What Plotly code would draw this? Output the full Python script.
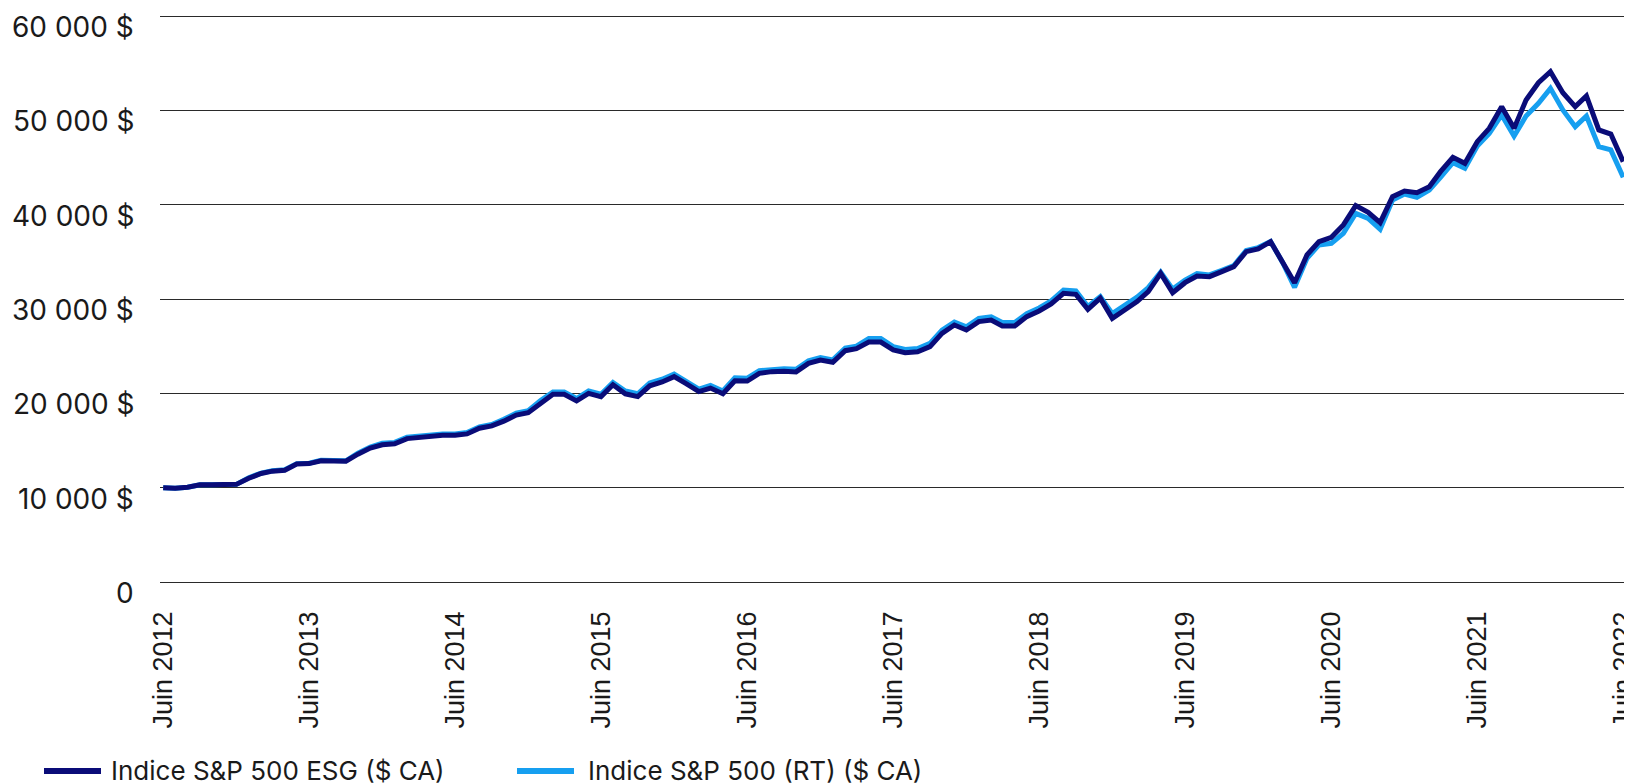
import pandas as pd
import plotly.graph_objects as go

# Monthly observations, June 2012 -> June 2022
months = pd.date_range("2012-06-01", "2022-06-01", freq="MS").strftime("%Y-%m-%d").tolist()

esg_values = [
    10000, 9950, 10050, 10300, 10300, 10300, 10350, 11000, 11500, 11750, 11850, 12500,
    12550, 12850, 12800, 12800, 13550, 14200, 14550, 14650, 15200, 15350, 15400, 15550,
    15550, 15700, 16300, 16550, 17050, 17700, 17950, 19000, 19900, 19900, 19200, 20000,
    19650, 20900, 19950, 19650, 20800, 21200, 21770, 21000, 20180, 20560, 19950, 21340,
    21300, 22120, 22300, 22330, 22270, 23180, 23530, 23290, 24520, 24730, 25440, 25440,
    24600, 24310, 24400, 24950, 26360, 27240, 26710, 27600, 27770, 27140, 27140, 28130,
    28730, 29470, 30600, 30490, 28900, 30080, 27950, 28830, 29720, 30780, 32720, 30670,
    31730, 32440, 32370, 32900, 33430, 35020, 35300, 36080, 33960, 31730, 34670, 36080,
    36540, 37850, 39900, 39190, 38090, 40850, 41450, 41270, 41910, 43500, 45020, 44380,
    46680, 48090, 50390, 48090, 51100, 52930, 54100, 51870, 50390, 51520, 47920, 47490,
    44560,
]

sp500_values = [
    10000, 9950, 10050, 10300, 10300, 10300, 10350, 11050, 11550, 11800, 11900, 12550,
    12600, 12900, 12850, 12850, 13650, 14300, 14700, 14800, 15350, 15500, 15550, 15700,
    15700, 15850, 16450, 16700, 17250, 17900, 18150, 19250, 20150, 20150, 19450, 20250,
    19900, 21150, 20250, 19950, 21100, 21500, 22050, 21300, 20450, 20850, 20250, 21650,
    21600, 22400, 22550, 22600, 22550, 23450, 23800, 23550, 24800, 25000, 25800, 25800,
    24950, 24650, 24750, 25300, 26700, 27550, 27050, 27950, 28100, 27500, 27500, 28450,
    29050, 29800, 30950, 30850, 29200, 30250, 28450, 29300, 30200, 31200, 32850, 31050,
    32000, 32700, 32550, 33050, 33550, 35150, 35450, 36100, 33800, 31240, 34310, 35730,
    35900, 36960, 39080, 38550, 37390, 40500, 41130, 40780, 41560, 42900, 44450, 43850,
    46220, 47560, 49510, 47280, 49400, 50740, 52330, 50040, 48270, 49400, 46150, 45800,
    42900,
]

series_names = ["Indice S&P 500 ESG ($ CA)", "Indice S&P 500 (RT) ($ CA)"]

x_tick_dates = [f"{y}-06-01" for y in range(2012, 2023)]
x_tick_labels = [f"Juin {y}" for y in range(2012, 2023)]
y_tick_values = [0, 10000, 20000, 30000, 40000, 50000, 60000]
y_tick_labels = ["0", "10 000 $", "20 000 $", "30 000 $", "40 000 $", "50 000 $", "60 000 $"]

DARK = "#0a0c78"
LIGHT = "#169ff0"
TEXT = "#1a1a1a"

W, H = 1632, 783
OFF = 8  # page body margin offset of the figure inside the browser window
ML, MR, MT, MB = 160 - OFF, OFF, 14 - OFF, 199 + OFF
PW, PH = W - ML - MR, H - MT - MB
Y_RANGE = [-212, 60212]


def px_x(page_px):
    return (page_px - OFF - ML) / PW


def px_y(page_py):
    return (H - MB - (page_py - OFF)) / PH


fig = go.Figure()
fig.add_trace(go.Scatter(
    x=months, y=sp500_values, name=series_names[1], mode="lines",
    line=dict(color=LIGHT, width=5),
))
fig.add_trace(go.Scatter(
    x=months, y=esg_values, name=series_names[0], mode="lines",
    line=dict(color=DARK, width=5),
))

shapes = []
annotations = []

# Y-axis labels: placed on the y scale, just below their gridline (as in the original)
for val, lab in zip(y_tick_values, y_tick_labels):
    annotations.append(dict(
        text=lab, xref="paper", yref="y", x=px_x(136), y=val,
        xanchor="right", yanchor="middle", yshift=-11, showarrow=False,
        font=dict(size=28, family="Inter, Arial", color=TEXT),
    ))

# Legend drawn manually (long swatches like the original)
legend_items = [
    (series_names[0], DARK, 44, 101, 109),
    (series_names[1], LIGHT, 517, 574, 586),
]
for name, color, x0, x1, xt in legend_items:
    shapes.append(dict(
        type="line", xref="paper", yref="paper",
        x0=px_x(x0), x1=px_x(x1), y0=px_y(771), y1=px_y(771),
        line=dict(color=color, width=6),
    ))
    annotations.append(dict(
        text=name, xref="paper", yref="paper", x=px_x(xt), y=px_y(770),
        xanchor="left", yanchor="middle", showarrow=False,
        font=dict(size=26, family="Inter, Arial", color=TEXT),
    ))

fig.update_layout(
    width=W, height=H,
    margin=dict(l=ML, r=MR, t=MT, b=MB, autoexpand=False),
    paper_bgcolor="white", plot_bgcolor="white",
    font=dict(family="Inter, Liberation Sans, Arial", color=TEXT),
    showlegend=False,
    shapes=shapes, annotations=annotations,
    xaxis=dict(
        range=["2012-05-24", "2022-06-23"], automargin=False,
        tickmode="array", tickvals=x_tick_dates, ticktext=x_tick_labels,
        tickangle=-90, ticks="", showgrid=False, zeroline=False, showline=False,
        tickfont=dict(size=27, family="Liberation Sans, Arial", color=TEXT),
        ticklabelstandoff=21,
    ),
    yaxis=dict(
        range=Y_RANGE, automargin=False,
        tickmode="array", tickvals=y_tick_values,
        showticklabels=False,
        showgrid=True, gridcolor="#2a2a2a", gridwidth=1.3,
        zeroline=False, showline=False, ticks="",
    ),
)

fig.write_html("out.html")
